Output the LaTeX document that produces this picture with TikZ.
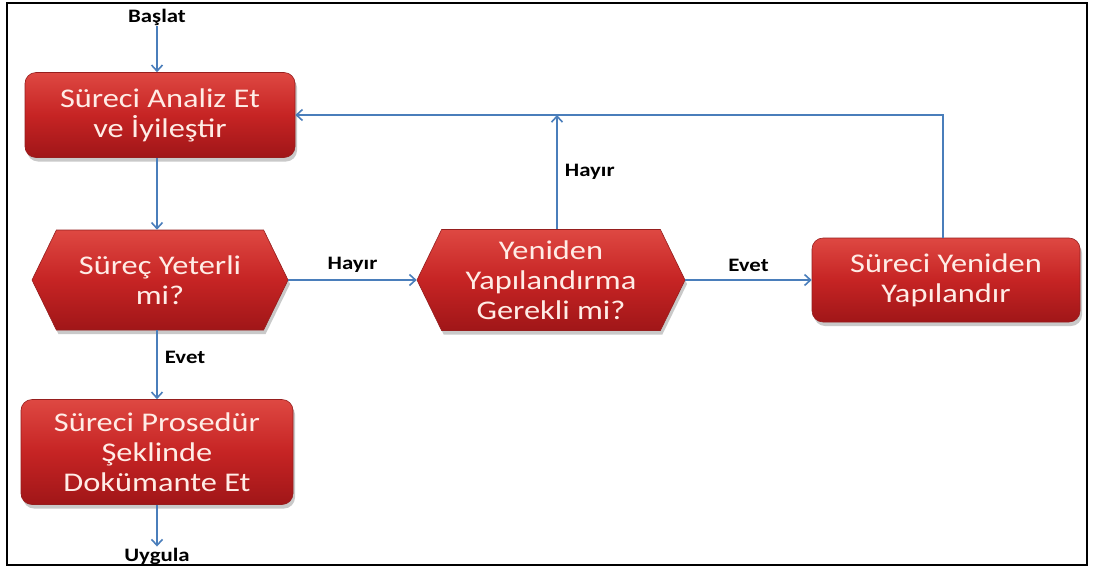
\documentclass[tikz,border=0pt]{standalone}
\usepackage{fontspec}
\setmainfont{Carlito}
\newfontfamily\boxfont[FakeStretch=1.2]{Carlito}
\usetikzlibrary{shapes.symbols,shadows,arrows.meta}
\definecolor{boxtop}{RGB}{222,72,66}
\definecolor{boxmid}{RGB}{198,36,36}
\definecolor{boxbot}{RGB}{160,22,24}
\definecolor{boxedge}{RGB}{150,30,30}
\definecolor{boxtext}{RGB}{255,236,230}
\definecolor{flow}{RGB}{74,126,187}
\tikzset{
  redfill/.style={top color=boxtop, bottom color=boxbot, middle color=boxmid,
    draw=boxedge, line width=0.6pt,
    drop shadow={shadow xshift=2pt, shadow yshift=-4pt, opacity=0.35, fill=black!60},
    text=boxtext, font=\boxfont\fontsize{27}{30}\selectfont, align=center, inner sep=2pt},
  stepbox/.style={redfill, rounded corners=11pt},
  hexbox/.style={redfill, shape=signal, signal to=west and east, signal pointer angle=128},
  flowlabel/.style={font=\boxfont\bfseries\fontsize{19}{21}\selectfont, text=black, inner sep=1pt},
  arr/.style={draw=flow, line width=1.8pt, -{Straight Barb[length=6pt,width=11pt,line width=1.6pt]}}
}
\begin{document}
\begin{tikzpicture}[x=1pt,y=-1pt]
  % page and frame
  \fill[white] (0,0) rectangle (1094,576);
  \useasboundingbox (0,0) rectangle (1094,576);
  \draw[black, line width=2pt] (7,3) rectangle (1087,565);

  % start and end labels
  \node[flowlabel] (start) at (157,17) {Başlat};
  \node[flowlabel] (end) at (157,556) {Uygula};

  % process boxes
  \node[stepbox, minimum width=270, minimum height=85] (analyse) at (160,115)
    {Süreci Analiz Et\\ve İyileştir};
  \node[stepbox, minimum width=272, minimum height=105] (document) at (157,452)
    {Süreci Prosedür\\Şeklinde\\Dokümante Et};
  \node[stepbox, minimum width=268, minimum height=84] (rebuild) at (946,280)
    {Süreci Yeniden\\Yapılandır};

  % decisions
  \node[hexbox, minimum width=256, minimum height=100] (enough) at (160,280)
    {Süreç Yeterli\\mi?};
  \node[hexbox, minimum width=268, minimum height=101] (need) at (551,280)
    {Yeniden\\Yapılandırma\\Gerekli mi?};

  % connectors
  \draw[arr] (start) -- (analyse.north -| start);
  \draw[arr] (analyse.south -| start) -- (enough.north -| start);
  \draw[arr] (enough.south -| start) -- node[flowlabel, right=6pt, pos=0.4] (yes1) {Evet} (document.north -| start);
  \draw[arr] (document.south -| start) -- (end);
  \draw[arr] (enough.east) -- node[flowlabel, above=6pt] (no1) {Hayır} (need.west);
  \draw[arr] (need.east) -- node[flowlabel, above=6pt] (yes2) {Evet} (rebuild.west);
  \coordinate (back) at ([xshift=6pt]need.north |- analyse.east);
  \draw[arr] ([xshift=6pt]need.north) -- node[flowlabel, right=6pt, pos=0.5] (no2) {Hayır} (back);
  \draw[arr] ([xshift=-3pt]rebuild.north) |- (analyse.east);
\end{tikzpicture}
\end{document}
